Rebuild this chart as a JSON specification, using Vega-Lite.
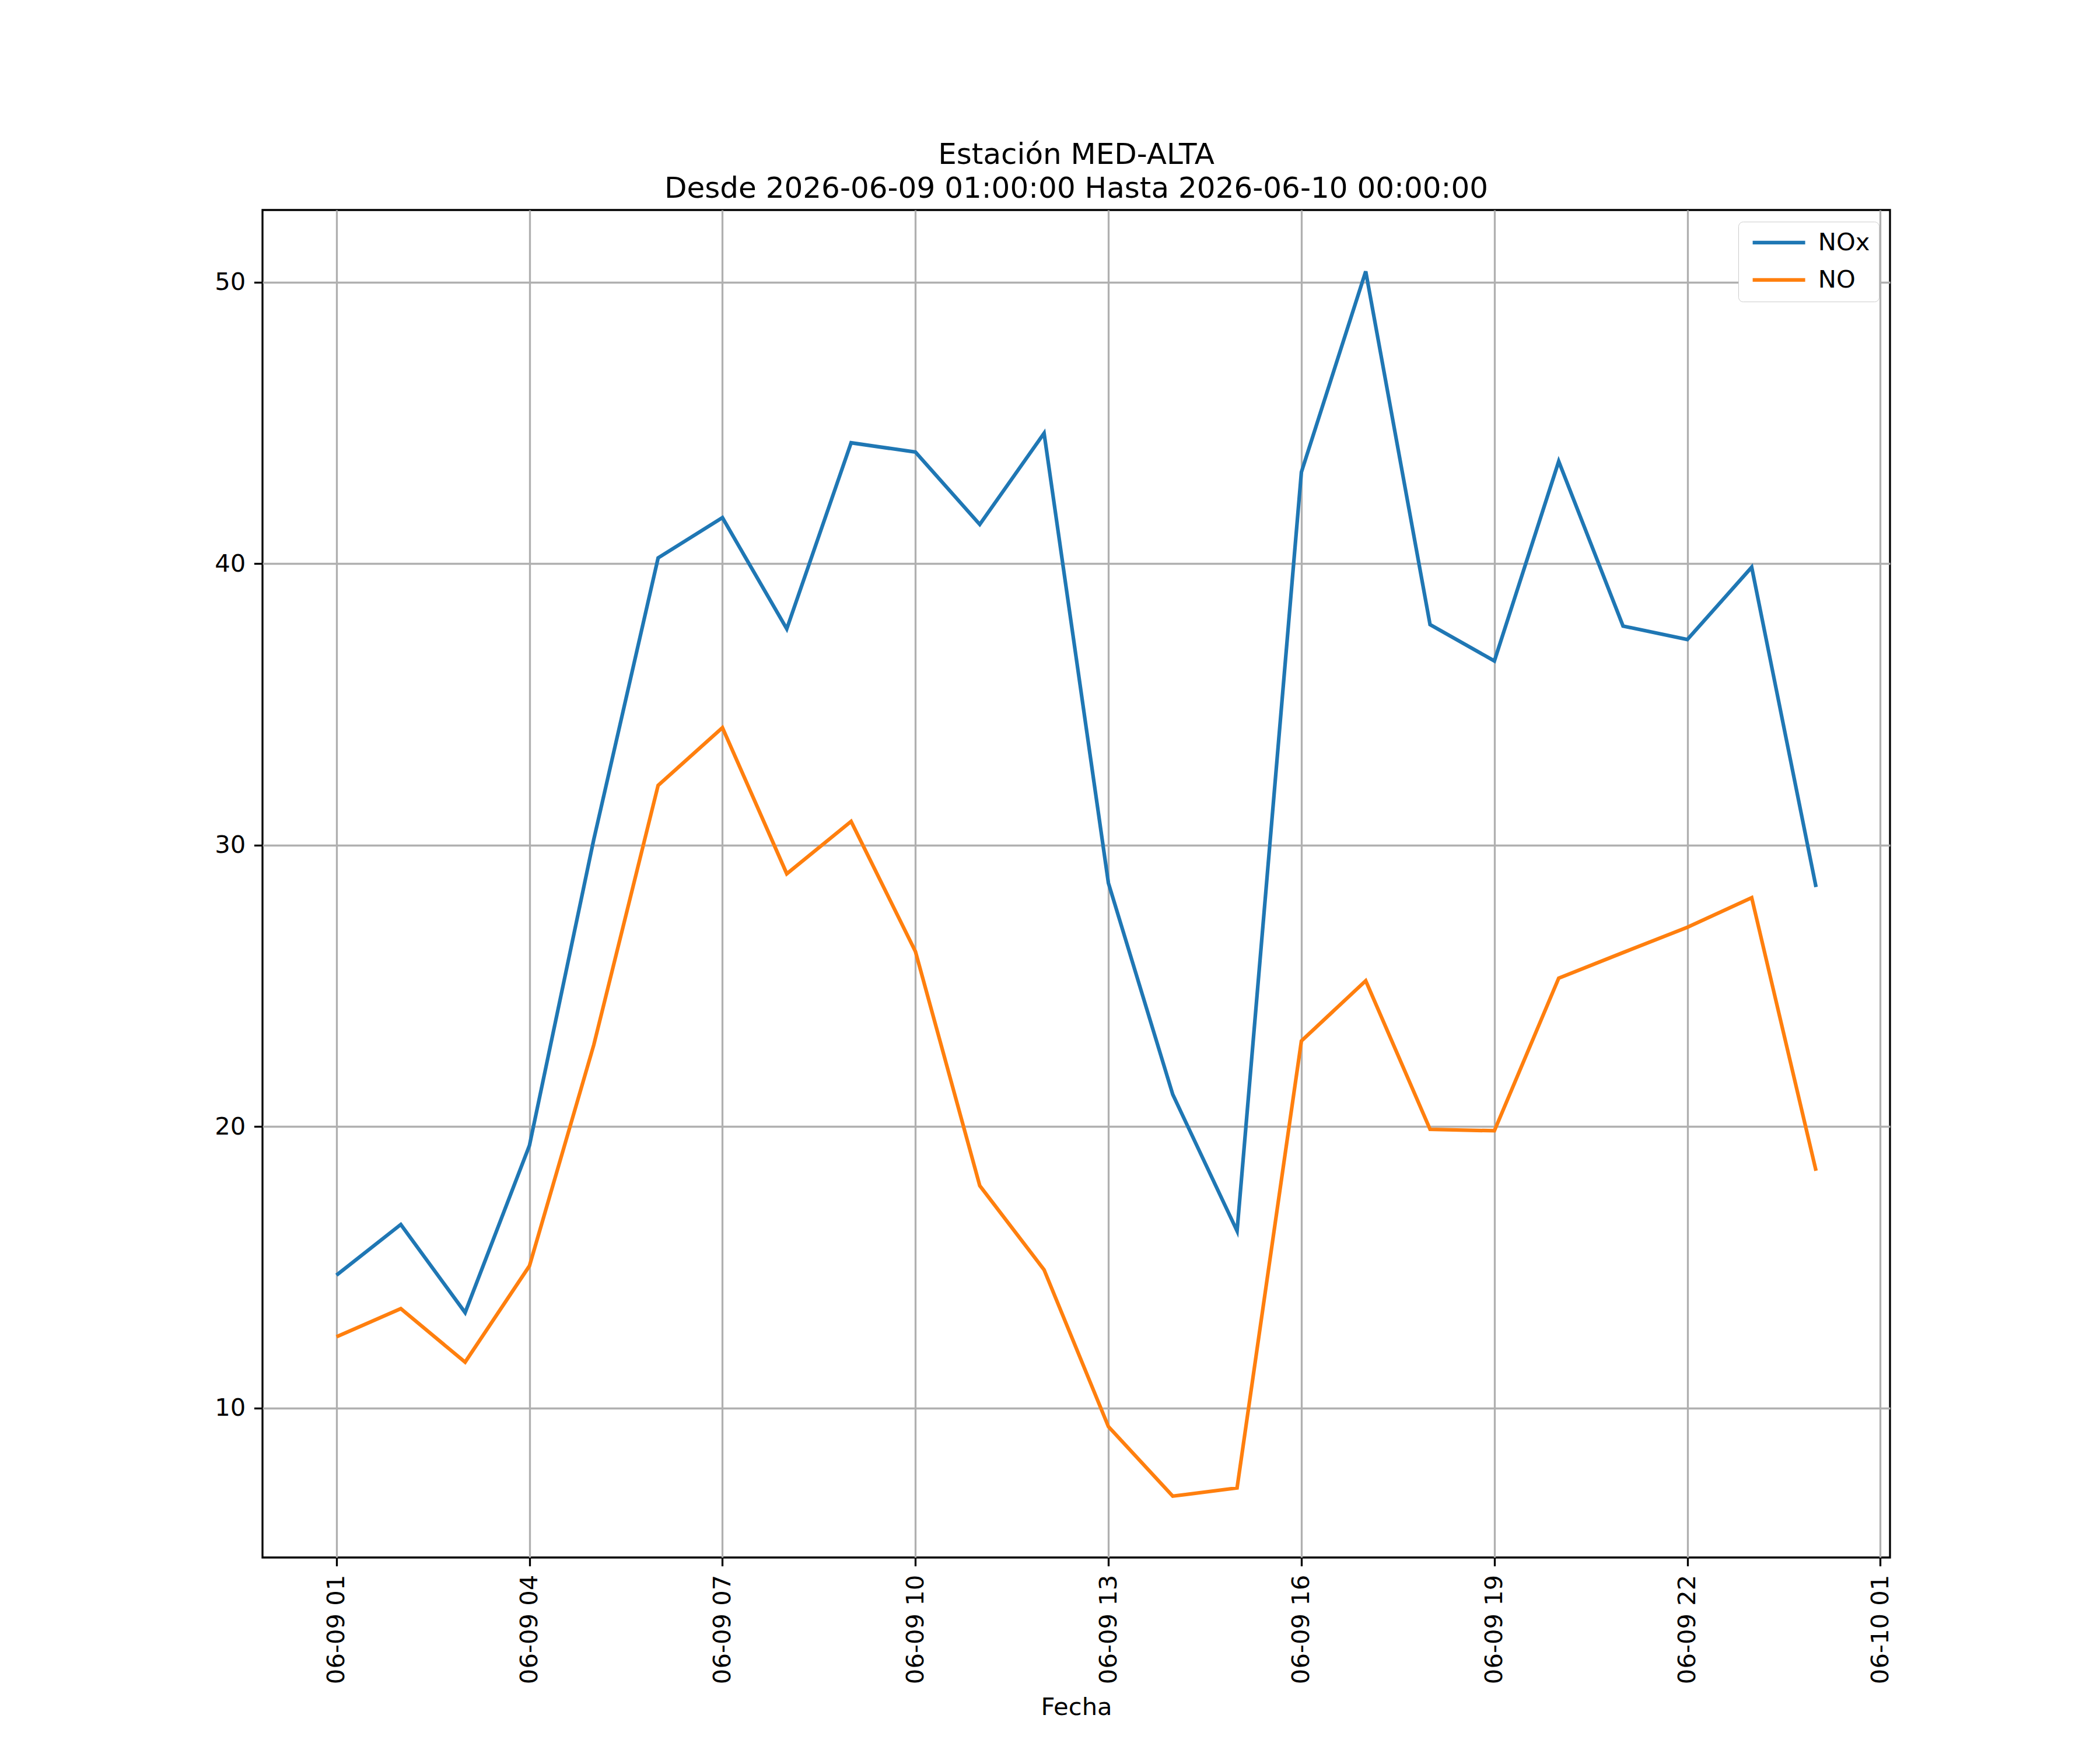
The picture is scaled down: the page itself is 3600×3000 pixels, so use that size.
{
  "$schema": "https://vega.github.io/schema/vega-lite/v6.json",
  "autosize": {"type": "none"},
  "width": 2790,
  "height": 2310,
  "padding": {"left": 450, "top": 360, "right": 360, "bottom": 330},
  "background": "white",
  "config": {
    "font": "DejaVu Sans",
    "view": {"stroke": "black", "strokeWidth": 3.3},
    "axis": {
      "domain": false,
      "grid": true,
      "gridColor": "#b0b0b0",
      "gridWidth": 3.3,
      "tickColor": "black",
      "tickWidth": 3.3,
      "tickSize": 14.6,
      "labelPadding": 14.6,
      "labelFontSize": 41.7,
      "labelColor": "black",
      "labelFont": "DejaVu Sans",
      "labelLimit": 0,
      "titleFont": "DejaVu Sans",
      "titleFontSize": 41.7,
      "titleFontWeight": "normal",
      "titleColor": "black",
      "labelOverlap": false,
      "labelFlush": false
    }
  },
  "title": {
    "text": ["Estación MED-ALTA", "Desde 2026-06-09 01:00:00 Hasta 2026-06-10 00:00:00"],
    "font": "DejaVu Sans",
    "fontSize": 50,
    "fontWeight": "normal",
    "color": "black",
    "anchor": "middle",
    "frame": "group",
    "lineHeight": 58,
    "offset": 11
  },
  "data": {
    "values": [
      {"fecha": "2026-06-09T01:00:00", "serie": "NOx", "valor": 14.72},
      {"fecha": "2026-06-09T02:00:00", "serie": "NOx", "valor": 16.52},
      {"fecha": "2026-06-09T03:00:00", "serie": "NOx", "valor": 13.39},
      {"fecha": "2026-06-09T04:00:00", "serie": "NOx", "valor": 19.33},
      {"fecha": "2026-06-09T05:00:00", "serie": "NOx", "valor": 30.2},
      {"fecha": "2026-06-09T06:00:00", "serie": "NOx", "valor": 40.2},
      {"fecha": "2026-06-09T07:00:00", "serie": "NOx", "valor": 41.63},
      {"fecha": "2026-06-09T08:00:00", "serie": "NOx", "valor": 37.68},
      {"fecha": "2026-06-09T09:00:00", "serie": "NOx", "valor": 44.29},
      {"fecha": "2026-06-09T10:00:00", "serie": "NOx", "valor": 43.96},
      {"fecha": "2026-06-09T11:00:00", "serie": "NOx", "valor": 41.39},
      {"fecha": "2026-06-09T12:00:00", "serie": "NOx", "valor": 44.63},
      {"fecha": "2026-06-09T13:00:00", "serie": "NOx", "valor": 28.65},
      {"fecha": "2026-06-09T14:00:00", "serie": "NOx", "valor": 21.14},
      {"fecha": "2026-06-09T15:00:00", "serie": "NOx", "valor": 16.29},
      {"fecha": "2026-06-09T16:00:00", "serie": "NOx", "valor": 43.25},
      {"fecha": "2026-06-09T17:00:00", "serie": "NOx", "valor": 50.38},
      {"fecha": "2026-06-09T18:00:00", "serie": "NOx", "valor": 37.83},
      {"fecha": "2026-06-09T19:00:00", "serie": "NOx", "valor": 36.54},
      {"fecha": "2026-06-09T20:00:00", "serie": "NOx", "valor": 43.63},
      {"fecha": "2026-06-09T21:00:00", "serie": "NOx", "valor": 37.78},
      {"fecha": "2026-06-09T22:00:00", "serie": "NOx", "valor": 37.3},
      {"fecha": "2026-06-09T23:00:00", "serie": "NOx", "valor": 39.87},
      {"fecha": "2026-06-10T00:00:00", "serie": "NOx", "valor": 28.51},
      {"fecha": "2026-06-09T01:00:00", "serie": "NO", "valor": 12.53},
      {"fecha": "2026-06-09T02:00:00", "serie": "NO", "valor": 13.53},
      {"fecha": "2026-06-09T03:00:00", "serie": "NO", "valor": 11.63},
      {"fecha": "2026-06-09T04:00:00", "serie": "NO", "valor": 15.05},
      {"fecha": "2026-06-09T05:00:00", "serie": "NO", "valor": 22.9},
      {"fecha": "2026-06-09T06:00:00", "serie": "NO", "valor": 32.12},
      {"fecha": "2026-06-09T07:00:00", "serie": "NO", "valor": 34.17},
      {"fecha": "2026-06-09T08:00:00", "serie": "NO", "valor": 28.98},
      {"fecha": "2026-06-09T09:00:00", "serie": "NO", "valor": 30.84},
      {"fecha": "2026-06-09T10:00:00", "serie": "NO", "valor": 26.22},
      {"fecha": "2026-06-09T11:00:00", "serie": "NO", "valor": 17.9},
      {"fecha": "2026-06-09T12:00:00", "serie": "NO", "valor": 14.91},
      {"fecha": "2026-06-09T13:00:00", "serie": "NO", "valor": 9.34},
      {"fecha": "2026-06-09T14:00:00", "serie": "NO", "valor": 6.87},
      {"fecha": "2026-06-09T15:00:00", "serie": "NO", "valor": 7.16},
      {"fecha": "2026-06-09T16:00:00", "serie": "NO", "valor": 23.04},
      {"fecha": "2026-06-09T17:00:00", "serie": "NO", "valor": 25.18},
      {"fecha": "2026-06-09T18:00:00", "serie": "NO", "valor": 19.9},
      {"fecha": "2026-06-09T19:00:00", "serie": "NO", "valor": 19.85},
      {"fecha": "2026-06-09T20:00:00", "serie": "NO", "valor": 25.27},
      {"fecha": "2026-06-09T21:00:00", "serie": "NO", "valor": 26.18},
      {"fecha": "2026-06-09T22:00:00", "serie": "NO", "valor": 27.08},
      {"fecha": "2026-06-09T23:00:00", "serie": "NO", "valor": 28.13},
      {"fecha": "2026-06-10T00:00:00", "serie": "NO", "valor": 18.43}
    ]
  },
  "mark": {"type": "line", "strokeWidth": 6.25, "clip": true},
  "encoding": {
    "x": {
      "field": "fecha",
      "type": "temporal",
      "title": "Fecha",
      "scale": {
        "domain": [
          {"year": 2026, "month": 6, "date": 8, "hours": 23, "minutes": 51},
          {"year": 2026, "month": 6, "date": 10, "hours": 1, "minutes": 9}
        ]
      },
      "axis": {
        "values": [
          {"year": 2026, "month": 6, "date": 9, "hours": 1},
          {"year": 2026, "month": 6, "date": 9, "hours": 4},
          {"year": 2026, "month": 6, "date": 9, "hours": 7},
          {"year": 2026, "month": 6, "date": 9, "hours": 10},
          {"year": 2026, "month": 6, "date": 9, "hours": 13},
          {"year": 2026, "month": 6, "date": 9, "hours": 16},
          {"year": 2026, "month": 6, "date": 9, "hours": 19},
          {"year": 2026, "month": 6, "date": 9, "hours": 22},
          {"year": 2026, "month": 6, "date": 10, "hours": 1}
        ],
        "format": "%m-%d %H",
        "labelAngle": -90,
        "labelAlign": "right",
        "labelBaseline": "middle",
        "titlePadding": 36
      }
    },
    "y": {
      "field": "valor",
      "type": "quantitative",
      "title": null,
      "scale": {"domain": [4.69, 52.56], "nice": false, "zero": false},
      "axis": {"values": [10, 20, 30, 40, 50]}
    },
    "color": {
      "field": "serie",
      "type": "nominal",
      "title": null,
      "scale": {"domain": ["NOx", "NO"], "range": ["#1f77b4", "#ff7f0e"]},
      "legend": {
        "orient": "none",
        "legendX": 2530,
        "legendY": 20,
        "symbolType": "M-1,0H7",
        "symbolSize": 506,
        "symbolStrokeWidth": 6.25,
        "labelFontSize": 41.7,
        "labelFont": "DejaVu Sans",
        "labelColor": "black",
        "labelOffset": 80,
        "rowPadding": 21,
        "padding": 15,
        "fillColor": "white",
        "strokeColor": "#cccccc",
        "cornerRadius": 8
      }
    }
  }
}
